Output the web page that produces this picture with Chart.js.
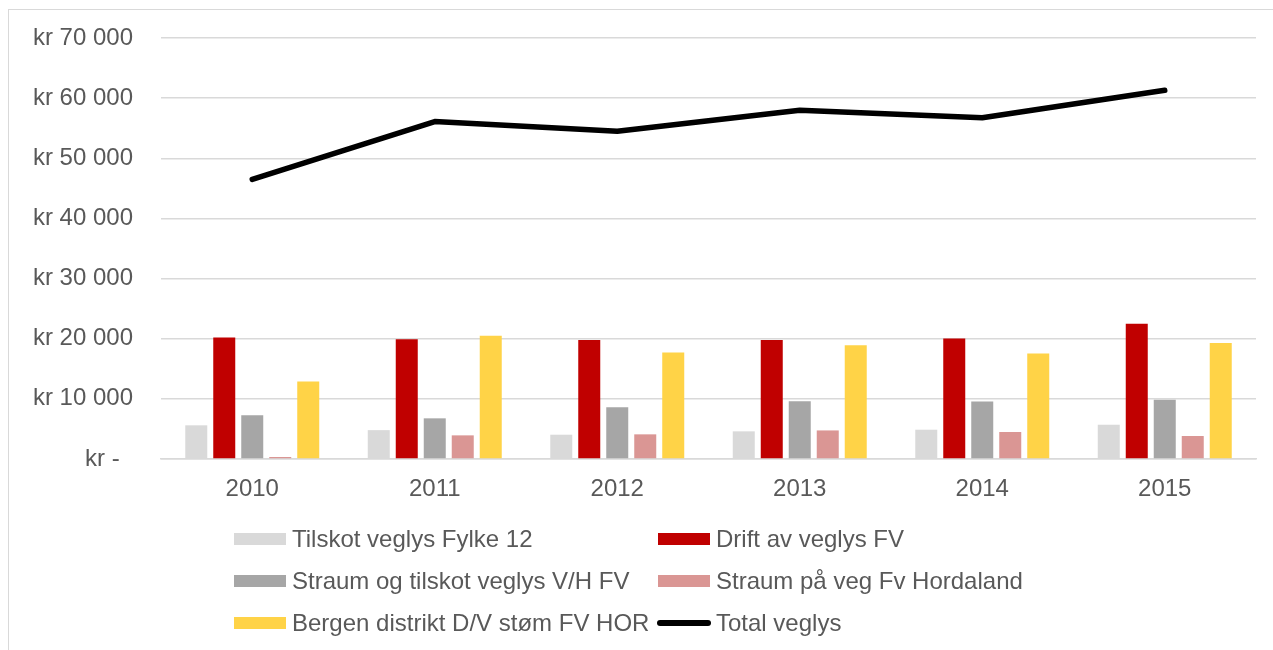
<!DOCTYPE html>
<html>
<head>
<meta charset="utf-8">
<script src="https://cdn.jsdelivr.net/npm/chart.js@4.4.1/dist/chart.umd.min.js"></script>
<style>
  html, body { margin: 0; padding: 0; background: #fff; }
  #wrap { position: relative; width: 1273px; height: 650px; overflow: hidden; }
  #frame { position: absolute; left: 8px; top: 9px; width: 1400px; height: 800px; border: 1.5px solid #d9d9d9; box-sizing: border-box; }
  #c { position: absolute; left: 0; top: 0; }
  #legend { position: absolute; left: 234px; top: 518px; display: grid; grid-template-columns: 424px auto; grid-auto-rows: 42px;
            font-family: "Liberation Sans", Arial, sans-serif; font-size: 24px; color: #595959; }
  .item { display: flex; align-items: center; height: 42px; white-space: nowrap; }
  .sw { width: 52px; height: 12px; margin-right: 6px; flex: none; }
  .ln { width: 54px; height: 6px; border-radius: 3px; margin-right: 5px; margin-left: -1px; flex: none; }
</style>
</head>
<body>
<div id="wrap">
  <div id="frame"></div>
  <canvas id="c" width="1273" height="650"></canvas>
  <div id="legend"></div>
</div>
<script>
const categories = ['2010', '2011', '2012', '2013', '2014', '2015'];
const tilskotFylke = [5600, 4800, 4040, 4600, 4870, 5700];
const driftFV = [20200, 19900, 19800, 19800, 20050, 22500];
const straumVH = [7260, 6760, 8600, 9600, 9580, 9850];
const straumHordaland = [330, 3930, 4100, 4750, 4490, 3820];
const bergenDistrikt = [12900, 20500, 17700, 18900, 17550, 19270];
const totalVeglys = [46500, 56100, 54500, 58000, 56750, 61300];
const yTickLabels = ['kr -  ', 'kr 10 000', 'kr 20 000', 'kr 30 000', 'kr 40 000', 'kr 50 000', 'kr 60 000', 'kr 70 000'];

const FONT = '"Liberation Sans", Arial, sans-serif';
const TXT = '#595959';

const datasets = [
  { type: 'bar', label: 'Tilskot veglys Fylke 12', data: tilskotFylke, backgroundColor: '#d9d9d9', order: 1 },
  { type: 'bar', label: 'Drift av veglys FV', data: driftFV, backgroundColor: '#c00000', order: 1 },
  { type: 'bar', label: 'Straum og tilskot veglys V/H FV', data: straumVH, backgroundColor: '#a6a6a6', order: 1 },
  { type: 'bar', label: 'Straum på veg Fv Hordaland', data: straumHordaland, backgroundColor: '#da9694', order: 1 },
  { type: 'bar', label: 'Bergen distrikt D/V støm FV HOR', data: bergenDistrikt, backgroundColor: '#ffd347', order: 1 },
  { type: 'line', label: 'Total veglys', data: totalVeglys, borderColor: '#000000', backgroundColor: '#000000',
    borderWidth: 5.5, pointRadius: 0, tension: 0, borderCapStyle: 'round', borderJoinStyle: 'round', order: 0 }
];
datasets.forEach(d => { if (d.type === 'bar') { d.categoryPercentage = 0.767; d.barPercentage = 0.786; } });

const chart = new Chart(document.getElementById('c'), {
  data: { labels: categories, datasets: datasets },
  options: {
    responsive: false,
    animation: false,
    devicePixelRatio: 1,
    layout: { padding: { left: 0, right: 17, top: 38, bottom: 130 } },
    plugins: { legend: { display: false }, tooltip: { enabled: false } },
    scales: {
      x: {
        offset: true,
        grid: { display: false, drawTicks: false },
        border: { display: true, color: '#d9d9d9', width: 1.5 },
        ticks: { color: TXT, font: { family: FONT, size: 24 }, padding: 16 },
        afterFit: s => { s.height = 61; }
      },
      y: {
        min: 0, max: 70000,
        ticks: { stepSize: 10000, color: TXT, font: { family: FONT, size: 24 }, padding: 0,
                 callback: (v, i) => yTickLabels[i] },
        grid: { color: '#d9d9d9', lineWidth: 1.5, drawTicks: true, tickLength: 28, tickColor: 'rgba(0,0,0,0)' },
        border: { display: false },
        afterFit: s => { s.width = 161; }
      }
    }
  }
});

const leg = document.getElementById('legend');
chart.data.datasets.forEach(d => {
  const it = document.createElement('div');
  it.className = 'item';
  const sw = document.createElement('span');
  sw.className = d.type === 'line' ? 'ln' : 'sw';
  sw.style.background = d.type === 'line' ? d.borderColor : d.backgroundColor;
  const t = document.createElement('span');
  t.textContent = d.label;
  it.appendChild(sw); it.appendChild(t);
  leg.appendChild(it);
});
</script>
</body>
</html>
